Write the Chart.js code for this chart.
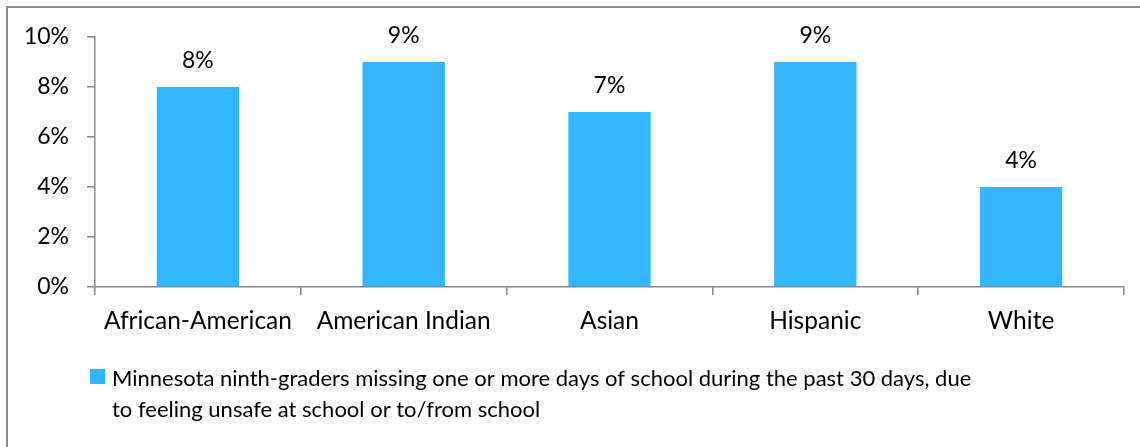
<!DOCTYPE html>
<html>
<head>
<meta charset="utf-8">
<script src="https://cdn.jsdelivr.net/npm/chart.js@4.4.1/dist/chart.umd.min.js"></script>
<style>
  html, body { margin: 0; padding: 0; background: #fff; overflow: hidden; }
  #wrap { position: relative; width: 1140px; height: 447px; }
  #frame { position: absolute; left: 6px; top: 6px; width: 1300px; height: 600px;
           border-left: 2px solid #8c8c8c; border-top: 2px solid #8c8c8c; box-sizing: border-box; }
  #c { position: absolute; left: 0; top: 0; }
</style>
</head>
<body>
<div id="wrap">
  <div id="frame"></div>
  <canvas id="c" width="1140" height="447"></canvas>
</div>
<script>
// ---- data ----
const categories = ["African-American", "American Indian", "Asian", "Hispanic", "White"];
const values = [8, 9, 7, 9, 4];
const yTickValues = [0, 2, 4, 6, 8, 10];
const seriesLabelLines = [
  "Minnesota ninth-graders missing one or more days of school during the past 30 days, due",
  "to feeling unsafe at school or to/from school"
];

// ---- style ----
const FONT_FAMILY = "Lato, 'Open Sans', sans-serif";
const NUM_FONT_SIZE = 23;
const CAT_FONT_SIZE = 24.5;
const LEGEND_FONT_SIZE = 22;
const TEXT_COLOR = "#000000";
const AXIS_COLOR = "#868686";
const BAR_COLOR = "#33B5FF";

const valueLabels = {
  id: "valueLabels",
  afterDatasetsDraw(chart) {
    const ctx = chart.ctx;
    const meta = chart.getDatasetMeta(0);
    ctx.save();
    ctx.font = NUM_FONT_SIZE + "px " + FONT_FAMILY;
    ctx.fillStyle = TEXT_COLOR;
    ctx.textAlign = "center";
    ctx.textBaseline = "alphabetic";
    meta.data.forEach((bar, i) => {
      ctx.fillText(values[i] + "%", bar.x, bar.y - 19);
    });
    ctx.restore();
  }
};

const wrappedLegend = {
  id: "wrappedLegend",
  afterDraw(chart) {
    const ctx = chart.ctx;
    const top = chart.height - 100;
    ctx.save();
    ctx.fillStyle = BAR_COLOR;
    ctx.fillRect(90, top + 22, 15, 15);
    ctx.font = LEGEND_FONT_SIZE + "px " + FONT_FAMILY;
    ctx.fillStyle = TEXT_COLOR;
    ctx.textAlign = "left";
    ctx.textBaseline = "alphabetic";
    seriesLabelLines.forEach((line, i) => {
      ctx.fillText(line, 112, top + 39 + i * 31);
    });
    ctx.restore();
  }
};

new Chart(document.getElementById("c"), {
  type: "bar",
  data: {
    labels: categories,
    datasets: [{
      label: seriesLabelLines.join(" "),
      data: values,
      backgroundColor: BAR_COLOR,
      borderWidth: 0,
      categoryPercentage: 1.0,
      barPercentage: 0.4
    }]
  },
  options: {
    responsive: false,
    animation: false,
    layout: { padding: { top: 37, left: 0, right: 16, bottom: 100 } },
    plugins: {
      legend: { display: false },
      tooltip: { enabled: false },
      title: { display: false }
    },
    scales: {
      x: {
        offset: true,
        grid: { offset: true, drawOnChartArea: false, drawTicks: true, tickLength: 8, color: AXIS_COLOR, lineWidth: 1.5 },
        border: { display: true, color: AXIS_COLOR, width: 1.5 },
        ticks: { color: TEXT_COLOR, font: { family: FONT_FAMILY, size: CAT_FONT_SIZE }, padding: 11, maxRotation: 0, autoSkip: false },
        afterFit(scale) { scale.height = 60; }
      },
      y: {
        min: 0,
        max: 10,
        afterBuildTicks(scale) { scale.ticks = yTickValues.map(v => ({ value: v })); },
        grid: { drawOnChartArea: false, drawTicks: true, tickLength: 8, color: AXIS_COLOR, lineWidth: 1.5 },
        border: { display: true, color: AXIS_COLOR, width: 1.5 },
        ticks: { color: TEXT_COLOR, font: { family: FONT_FAMILY, size: NUM_FONT_SIZE }, padding: 18, callback: v => v + "%" },
        afterFit(scale) { scale.width = 95; }
      }
    }
  },
  plugins: [valueLabels, wrappedLegend]
});
</script>
</body>
</html>
